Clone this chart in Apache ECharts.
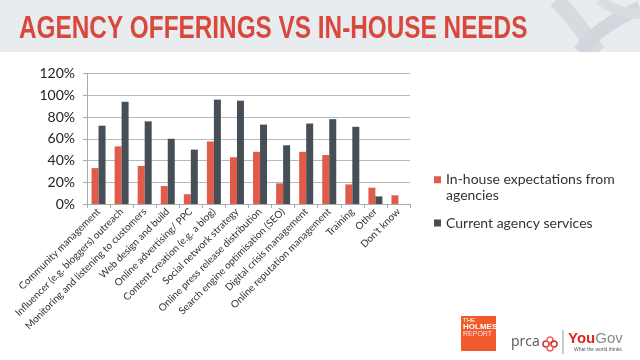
<!DOCTYPE html>
<html><head><meta charset="utf-8">
<script src="https://cdn.jsdelivr.net/npm/echarts@6/dist/echarts.min.js"></script>
<style>html,body{margin:0;padding:0;background:#fff}#c{width:640px;height:360px}</style>
</head><body><div id="c"></div>
<script>
const categories = [
  "Community management",
  "Influencer (e.g. bloggers) outreach",
  "Monitoring and listening to customers",
  "Web design and build",
  "Online advertising/ PPC",
  "Content creation (e.g. a blog)",
  "Social network strategy",
  "Online press release distribution",
  "Search engine optimisation (SEO)",
  "Digital crisis management",
  "Online reputation management",
  "Training",
  "Other",
  "Don't know"
];
const inHouse = [33, 53, 35, 16.5, 9, 57.5, 43, 48, 19, 48, 45, 18, 15, 8];
const agency  = [72, 94, 76, 60, 50, 96, 95, 73, 54, 74, 78, 71, 7, null];
const seriesNames = ["In-house expectations from agencies", "Current agency services"];
const yMin = 0, yMax = 120, yStep = 20;

const chart = echarts.init(document.getElementById('c'), null, {renderer: 'canvas'});
const font = 'Lato, "Open Sans", sans-serif';
chart.setOption({
  animation: false,
  backgroundColor: '#ffffff',
  grid: {left: 87, right: 230, top: 73.5, bottom: 156, containLabel: false},
  legend: [
    {
      data: [seriesNames[0]], orient: 'vertical', left: 429, top: 166,
      itemWidth: 7, itemHeight: 22, icon: 'path://M0,0H10V10H0Z M0,31H0.01',
      formatter: () => 'In-house expectations from\nagencies',
      textStyle: {fontFamily: font, fontSize: 14, lineHeight: 16, color: '#333'}
    },
    {
      data: [seriesNames[1]], orient: 'vertical', left: 429, top: 211,
      itemWidth: 7, itemHeight: 7, icon: 'rect',
      textStyle: {fontFamily: font, fontSize: 14, color: '#333'}
    }
  ],
  xAxis: {
    type: 'category', data: categories,
    axisLine: {lineStyle: {color: '#aaaaaa'}},
    axisTick: {show: true, alignWithLabel: false, length: 4, lineStyle: {color: '#aaaaaa'}},
    axisLabel: {rotate: 45, interval: 0, fontFamily: font, fontSize: 10, color: '#333', margin: 6, hideOverlap: false}
  },
  yAxis: {
    type: 'value', min: yMin, max: yMax, interval: yStep,
    axisLine: {show: true, lineStyle: {color: '#aaaaaa'}},
    axisTick: {show: true, length: 4, lineStyle: {color: '#aaaaaa'}},
    splitLine: {lineStyle: {color: '#b8b8b8'}},
    axisLabel: {formatter: '{value}%', fontFamily: font, fontSize: 14, color: '#222', margin: 12}
  },
  series: [
    {name: seriesNames[0], type: 'bar', data: inHouse, barWidth: 7, barGap: '0%', itemStyle: {color: '#e05b49'}},
    {name: seriesNames[1], type: 'bar', data: agency, barWidth: 7, barGap: '0%', itemStyle: {color: '#464f57'}}
  ],
  graphic: [
    {type: 'rect', z: -10, shape: {x: 0, y: 0, width: 640, height: 52}, style: {fill: '#e9ecef'}},
    {type: 'bezierCurve', z: -9, shape: {x1: 556, y1: 0, cpx1: 575, cpy1: 18, cpx2: 585, cpy2: 35, x2: 598, y2: 52}, style: {fill: 'none', stroke: '#d6dbe0', lineWidth: 16}},
    {type: 'bezierCurve', z: -9, shape: {x1: 640, y1: 8, cpx1: 612, cpy1: 20, cpx2: 592, cpy2: 34, x2: 580, y2: 52}, style: {fill: 'none', stroke: '#d2d7dd', lineWidth: 14}},
    {type: 'bezierCurve', z: -9, shape: {x1: 600, y1: 0, cpx1: 612, cpy1: 10, cpx2: 628, cpy2: 14, x2: 640, y2: 14}, style: {fill: 'none', stroke: '#d9dde2', lineWidth: 10}},
    {type: 'rect', z: -8, shape: {x: 0, y: 52, width: 640, height: 14}, style: {fill: '#ffffff'}},
    {type: 'text', x: 19, y: 14, scaleX: 0.785, style: {text: 'AGENCY OFFERINGS VS IN-HOUSE NEEDS', fontFamily: '"Liberation Sans", Arial, sans-serif', fontWeight: 'bold', fontSize: 31, fill: '#d8483c'}},
    {type: 'rect', shape: {x: 461, y: 316, width: 35, height: 35}, style: {fill: '#f15a2b'}},
    {type: 'text', style: {x: 463, y: 317, text: 'THE', fontSize: 6, fill: '#fff', fontFamily: 'Liberation Sans'}},
    {type: 'text', style: {x: 463, y: 323, text: 'HOLMES', fontSize: 8, fontWeight: 'bold', fill: '#fff', fontFamily: 'Liberation Sans'}},
    {type: 'text', style: {x: 463, y: 331, text: 'REPORT', fontSize: 7, fill: '#fde', fontFamily: 'Liberation Sans'}},
    {type: 'text', style: {x: 511, y: 335, text: 'prca', fontSize: 14, fill: '#555', fontFamily: '"Open Sans", sans-serif'}},
    {type: 'circle', shape: {cx: 546, cy: 344, r: 3}, style: {fill: 'none', stroke: '#c33', lineWidth: 1.5}},
    {type: 'circle', shape: {cx: 550, cy: 340, r: 3}, style: {fill: 'none', stroke: '#e66', lineWidth: 1.5}},
    {type: 'circle', shape: {cx: 554, cy: 344, r: 3}, style: {fill: 'none', stroke: '#c33', lineWidth: 1.5}},
    {type: 'circle', shape: {cx: 550, cy: 348, r: 3}, style: {fill: 'none', stroke: '#e66', lineWidth: 1.5}},
    {type: 'line', shape: {x1: 563, y1: 330, x2: 563, y2: 354}, style: {stroke: '#999', lineWidth: 1}},
    {type: 'text', style: {x: 568, y: 331, text: '{a|You}{b|Gov}', rich: {a: {fontSize: 15, fontWeight: 'bold', fill: '#e1261c', fontFamily: 'Liberation Sans'}, b: {fontSize: 15, fill: '#8a8a8a', fontFamily: 'Liberation Sans'}}}},
    {type: 'text', style: {x: 574, y: 347, text: 'What the world thinks', fontSize: 5, fill: '#555', fontFamily: 'Liberation Sans'}}
  ]
});
</script></body></html>
